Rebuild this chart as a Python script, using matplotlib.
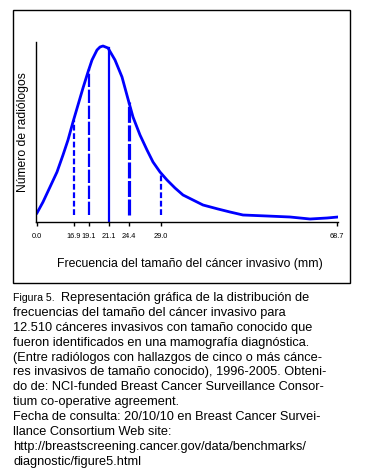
import numpy as np
import matplotlib
matplotlib.use("Agg")
import matplotlib.pyplot as plt
from matplotlib.patches import Rectangle

plt.rcParams['font.family'] = ['Liberation Sans', 'DejaVu Sans']

# position along the horizontal axis (0 = left end, 300 = right end) and height of the curve
curve_x = [0, 6, 13, 20, 26, 31, 36, 41, 46, 51, 55, 60, 63, 66, 71, 78, 85, 91, 96,
           103, 110, 116, 123, 130, 138, 146, 156, 166, 181, 193, 206, 230, 253, 273, 290, 301]
curve_y = [9, 20, 35, 50, 67, 82, 100, 117, 134, 150, 162, 172, 175, 176, 174, 162, 145, 123, 105,
           87, 72, 60, 50, 42, 34, 27, 22, 17, 13, 10, 7, 6, 5, 3, 4, 5]

# reference lines: tick label, position, height at the curve, style
marker_labels = ['16.9', '19.1', '21.1', '24.4', '29.0']
marker_pos = [37, 52, 72, 92, 124]
marker_top = [102, 153, 174, 120, 49]
marker_lw = [1.6, 1.6, 1.6, 2.3, 1.6]
marker_dash = [(2.6, 1.2), (6, 1.2), None, (5, 0.8), (2.6, 1.2)]

tick_pos = [0] + marker_pos + [300]
tick_labels = ['0.0'] + marker_labels + ['68.7']

blue = '#0000ff'

fig = plt.figure(figsize=(3.67, 4.74), dpi=100)

# frame around the chart
fig.patches.append(Rectangle((13 / 367, 1 - 283 / 474), 337 / 367, 273 / 474,
                             transform=fig.transFigure, fill=False,
                             edgecolor='black', linewidth=1.0))

ax = fig.add_axes([36 / 367, 1 - 222 / 474, 302 / 367, 180 / 474])
ax.plot(curve_x, curve_y, color=blue, linewidth=2.0, solid_joinstyle='round')
for pos, top, lw, dash in zip(marker_pos, marker_top, marker_lw, marker_dash):
    if dash is None:
        ax.plot([pos, pos], [0, top], color=blue, linewidth=lw)
    else:
        ax.plot([pos, pos], [7, top], color=blue, linewidth=lw, dashes=dash)

ax.set_xlim(-1, 301)
ax.set_ylim(0, 180)
for side in ['top', 'right']:
    ax.spines[side].set_visible(False)
ax.spines['left'].set_linewidth(1.0)
ax.spines['bottom'].set_linewidth(1.0)
ax.set_yticks([])
ax.set_xticks(tick_pos)
ax.set_xticklabels(tick_labels, fontsize=5.3)
ax.tick_params(axis='x', length=3, width=1, pad=5)
ax.set_ylabel('Número de radiólogos', fontsize=8.7, labelpad=5)

fig.text(190 / 367, 1 - 264 / 474, 'Frecuencia del tamaño del cáncer invasivo (mm)',
         fontsize=8.8, ha='center', va='center')

caption = [
    'Representación gráfica de la distribución de',
    'frecuencias del tamaño del cáncer invasivo para',
    '12.510 cánceres invasivos con tamaño conocido que',
    'fueron identificados en una mamografía diagnóstica.',
    '(Entre radiólogos con hallazgos de cinco o más cánce-',
    'res invasivos de tamaño conocido), 1996-2005. Obteni-',
    'do de: NCI-funded Breast Cancer Surveillance Consor-',
    'tium co-operative agreement.',
    'Fecha de consulta: 20/10/10 en Breast Cancer Survei-',
    'llance Consortium Web site:',
    'http://breastscreening.cancer.gov/data/benchmarks/',
    'diagnostic/figure5.html',
]
y0 = 298
step = 14.9
fig.text(13 / 367, 1 - y0 / 474, 'Figura 5.', fontsize=7.6, ha='left', va='center')
for i, line in enumerate(caption):
    x = 61 if i == 0 else 13
    fig.text(x / 367, 1 - (y0 + i * step) / 474, line, fontsize=9.2, ha='left', va='center')

fig.savefig('out.png', dpi=100)
